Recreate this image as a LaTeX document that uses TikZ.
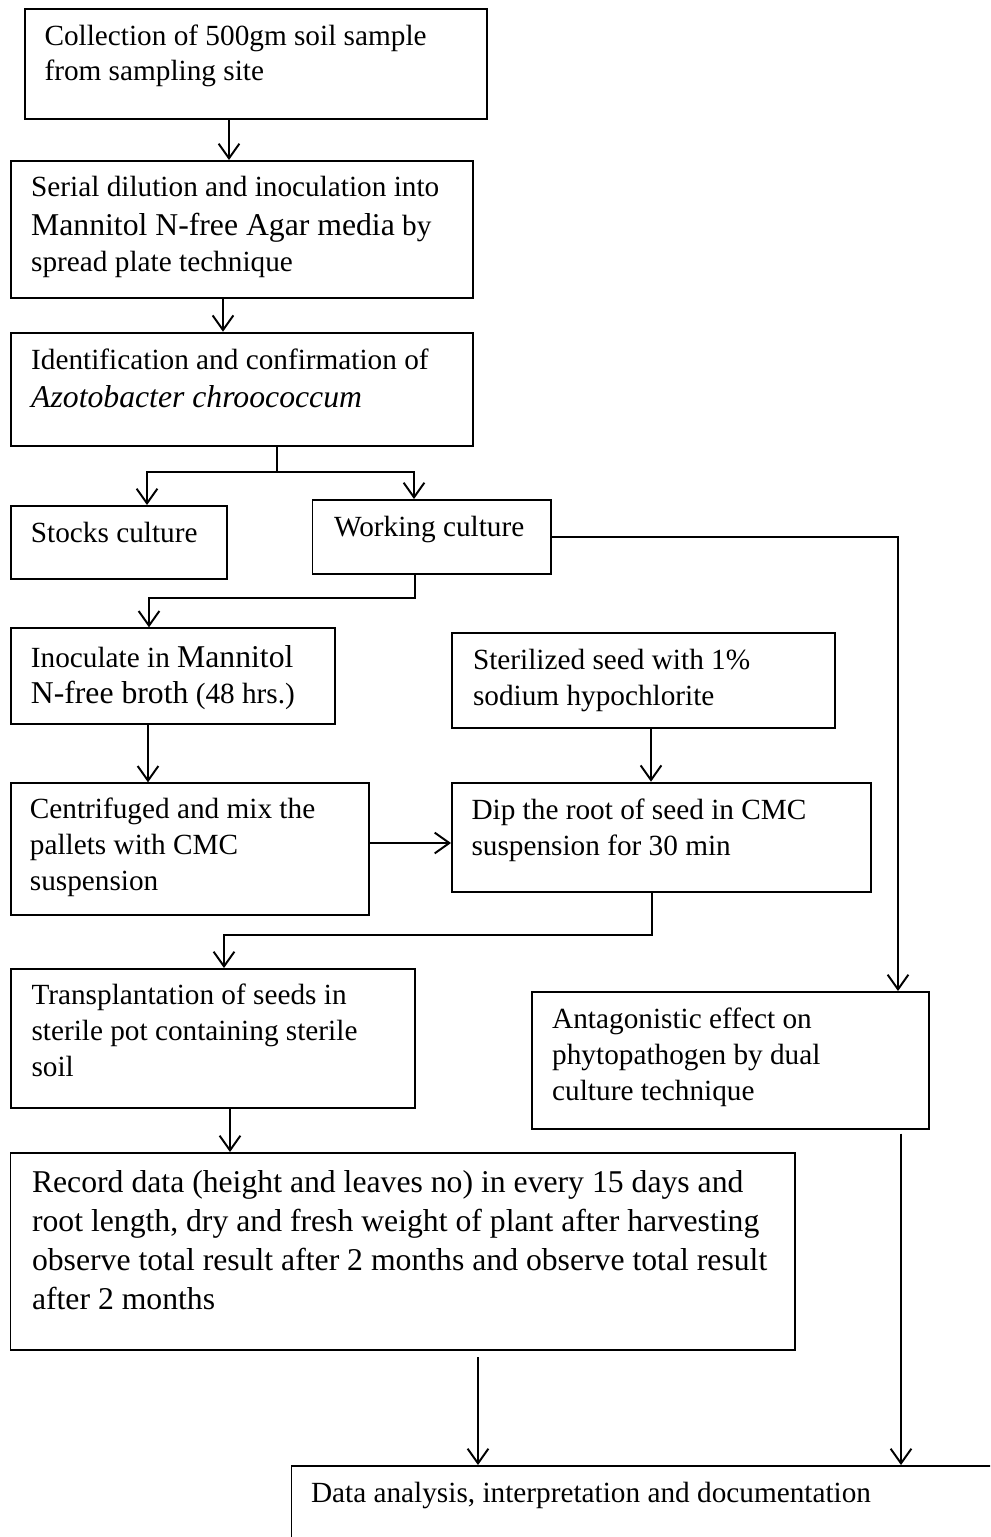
\documentclass[tikz,border=0pt]{standalone}
\usepackage{fontspec}
\setmainfont{Liberation Serif}
\usetikzlibrary{arrows.meta, fit, calc}

\newcommand{\upsize}[1]{{\fontsize{13}{14.8}\selectfont #1}}
\newcommand{\lines}[1]{\begin{tabular}[t]{@{}l@{}}#1\end{tabular}}

\tikzset{
  stage/.style={draw, line width=0.8pt, inner sep=0pt},
  note/.style={anchor=base west, inner sep=0pt, font=\fontsize{12}{14.8}\selectfont},
  link/.style={line width=0.8pt},
}

\begin{document}
\begin{tikzpicture}[x=0.41pt, y=-0.41pt, >={Straight Barb[length=6pt, width=8.5pt]}]
\useasboundingbox (0,0) rectangle (990,1537);
\clip (0,0) rectangle (990,1537);

% Boxes
\node[stage, fit={(25,9) (487,119)}] (collect) {};
\node[stage, fit={(10.7,161) (472.7,298)}] (serial) {};
\node[stage, fit={(10.7,332.7) (472.7,445.7)}] (ident) {};
\node[stage, fit={(11.4,506) (227,579)}] (stock) {};
\node[stage, fit={(312.5,500) (551,574)}] (work) {};
\node[stage, fit={(11.4,628.3) (334.6,724)}] (inoc) {};
\node[stage, fit={(452,632.7) (834.6,728.3)}] (steril) {};
\node[stage, fit={(11.4,783.3) (369,915)}] (centri) {};
\node[stage, fit={(452,782.7) (871,892.3)}] (dip) {};
\node[stage, fit={(11,969) (415,1108)}] (trans) {};
\node[stage, fit={(531.7,992) (929,1129)}] (antag) {};
\node[stage, fit={(10.5,1153) (795,1350)}] (record) {};
\node[stage, fit={(291.5,1466) (1010,1560)}] (data) {};

% Texts
\node[note, font=\fontsize{12}{14.4}\selectfont] (collect-txt) at ([shift={(20,37.5)}]collect.north west) {\lines{Collection of 500gm soil sample\\from sampling site}};
\node[note] (serial-txt) at ([shift={(21,36)}]serial.north west) {\lines{Serial dilution and inoculation into\\[1.5pt]\upsize{Mannitol N-free Agar media} by\\spread plate technique}};
\node[note] (ident-txt) at ([shift={(21,38)}]ident.north west) {\lines{Identification and confirmation of\\[0.8pt]\upsize{\textit{Azotobacter chroococcum}}}};
\node[note] (stock-txt) at ([shift={(20,37)}]stock.north west) {Stocks culture};
\node[note] (work-txt) at ([shift={(22,37)}]work.north west) {Working culture};
\node[note] (inoc-txt) at ([shift={(20,40)}]inoc.north west) {\lines{Inoculate in \upsize{Mannitol}\\\upsize{N-free broth} (48 hrs.)}};
\node[note] (steril-txt) at ([shift={(21.5,38)}]steril.north west) {\lines{Sterilized seed with 1\%\\sodium hypochlorite}};
\node[note] (centri-txt) at ([shift={(19,36)}]centri.north west) {\lines{Centrifuged and mix the\\pallets with CMC\\suspension}};
\node[note] (dip-txt) at ([shift={(20,37.3)}]dip.north west) {\lines{Dip the root of seed in CMC\\suspension for 30 min}};
\node[note] (trans-txt) at ([shift={(21,36)}]trans.north west) {\lines{Transplantation of seeds in\\sterile pot containing sterile\\soil}};
\node[note] (antag-txt) at ([shift={(21,37.3)}]antag.north west) {\lines{Antagonistic effect on\\phytopathogen by dual\\culture technique}};
\node[note, font=\fontsize{13}{16}\selectfont] (record-txt) at ([shift={(22,40.3)}]record.north west) {\lines{Record data (height and leaves no) in every 15 days and\\root length, dry and fresh weight of plant after harvesting\\observe total result after 2 months and observe total result\\after 2 months}};
\node[note] (data-txt) at ([shift={(20,37.3)}]data.north west) {Data analysis, interpretation and documentation};

% Connectors
\draw[link, ->] (collect.south -| 229,0) -- (serial.north -| 229,0);
\draw[link, ->] (serial.south -| 223,0) -- (ident.north -| 223,0);
\coordinate (split) at (277,472);
\draw[line width=0.5pt] (ident.south -| split) -- (split);
\draw[link, ->] (split) -| (stock.north -| 147,0);
\draw[link, ->] (split) -| (work.north -| 414,0);
\draw[link, ->] (work.east) -| (antag.north -| 898,0);
\coordinate (fork) at (415,598);
\draw[link, ->] (work.south -| fork) -- (fork) -| (inoc.north -| 149,0);
\draw[link, ->] (inoc.south -| 148,0) -- (centri.north -| 148,0);
\draw[link, ->] (steril.south -| 651,0) -- (dip.north -| 651,0);
\draw[link, ->] (centri.east |- 0,843) -- (dip.west |- 0,843);
\coordinate (merge) at (652,935);
\draw[link, ->] (dip.south -| merge) -- (merge) -| (trans.north -| 224,0);
\draw[link, ->] (trans.south -| 230,0) -- (record.north -| 230,0);
\draw[link, ->, shorten <=2.5pt] (record.south -| 478,0) -- (data.north -| 478,0);
\draw[link, ->, shorten <=1.5pt] (antag.south -| 901,0) -- (data.north -| 901,0);
\end{tikzpicture}
\end{document}
